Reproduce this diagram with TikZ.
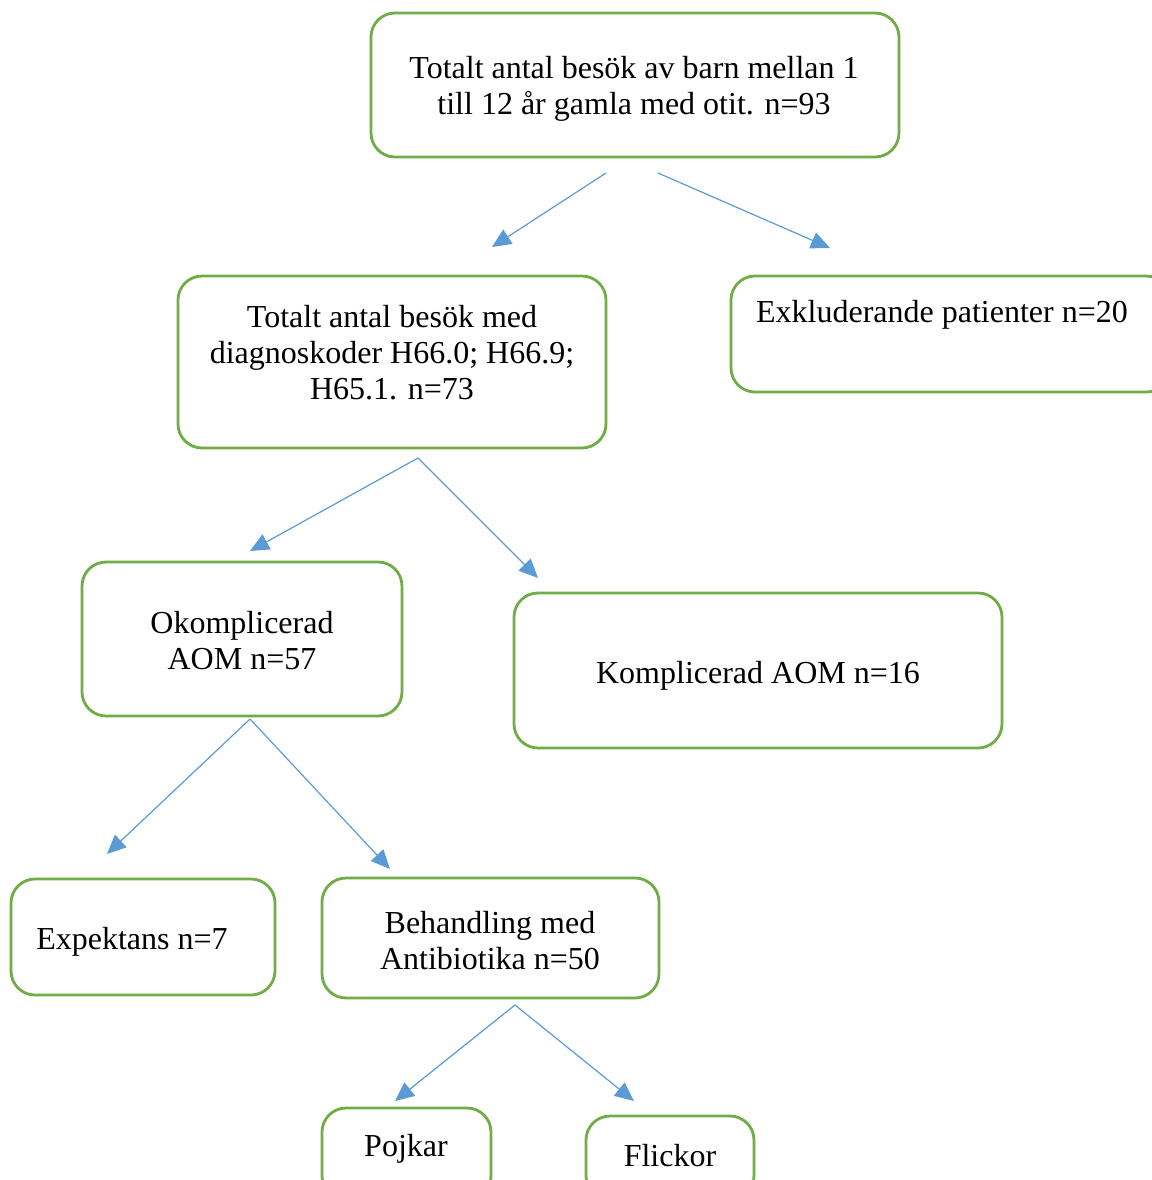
\documentclass[tikz,border=0pt]{standalone}
\usepackage{fontspec}
\setmainfont{Liberation Serif}
\usetikzlibrary{arrows.meta}
\definecolor{boxgreen}{HTML}{70AD47}
\definecolor{arrowblue}{HTML}{5B9BD5}
\tikzset{
  flowbox/.style={draw=boxgreen, line width=1.4pt, rounded corners=12pt, inner sep=0pt},
  flowtext/.style={font=\fontsize{16}{18}\selectfont, align=center, inner sep=0pt, text=black},
  flowarrow/.style={draw=arrowblue, line width=0.6pt, -{Triangle[length=9.5pt,width=8.5pt]}, arrowblue}
}
\begin{document}
\begin{tikzpicture}[x=0.5pt,y=-0.5pt]
\clip (0,0) rectangle (1152,1180);
\fill[white] (0,0) rectangle (1152,1180);
% boxes
\draw[flowbox] (371,13) rectangle (899,157) node[pos=0.5] (boxA) {};
\draw[flowbox] (178,276) rectangle (606,448) node[pos=0.5] (boxB) {};
\draw[flowbox] (731,276) rectangle (1170,392) node[pos=0.5] (boxC) {};
\draw[flowbox] (82,562) rectangle (402,716) node[pos=0.5] (boxD) {};
\draw[flowbox] (514,593) rectangle (1002,748) node[pos=0.5] (boxE) {};
\draw[flowbox] (11,879) rectangle (275,995) node[pos=0.5] (boxF) {};
\draw[flowbox] (322,878) rectangle (659,998) node[pos=0.5] (boxG) {};
\draw[flowbox] (322,1108) rectangle (491,1200) node[pos=0.5] (boxH) {};
\draw[flowbox] (586,1116) rectangle (754,1200) node[pos=0.5] (boxI) {};
% texts
\node[flowtext] (tA) at (634,89) {Totalt antal besök av barn mellan 1\\till 12 år gamla med otit. n=93};
\node[flowtext] (tB) at (392,353) {Totalt antal besök med\\diagnoskoder H66.0; H66.9;\\H65.1. n=73};
\node[flowtext] (tC) at (942,315) {Exkluderande patienter n=20};
\node[flowtext] (tD) at (242,641) {Okomplicerad\\AOM n=57};
\node[flowtext] (tE) at (758,676) {Komplicerad AOM n=16};
\node[flowtext] (tF) at (132,942) {Expektans n=7};
\node[flowtext] (tG) at (490,941) {Behandling med\\Antibiotika n=50};
\node[flowtext] (tH) at (406,1149) {Pojkar};
\node[flowtext] (tI) at (670,1156) {Flickor};
% arrow end points
\coordinate (a1s) at (606,173); \coordinate (a1e) at (492,247);
\coordinate (a2s) at (658,173); \coordinate (a2e) at (830,248);
\coordinate (b0) at (418,458);
\coordinate (b1e) at (250,551); \coordinate (b2e) at (538,578);
\coordinate (d0) at (250,719);
\coordinate (d1e) at (107,854); \coordinate (d2e) at (390,869);
\coordinate (g0) at (515,1005);
\coordinate (g1e) at (395,1101); \coordinate (g2e) at (634,1101);
% arrows
\draw[flowarrow] (a1s) -- (a1e);
\draw[flowarrow] (a2s) -- (a2e);
\draw[flowarrow] (b0) -- (b1e);
\draw[flowarrow] (b0) -- (b2e);
\draw[flowarrow] (d0) -- (d1e);
\draw[flowarrow] (d0) -- (d2e);
\draw[flowarrow] (g0) -- (g1e);
\draw[flowarrow] (g0) -- (g2e);
\end{tikzpicture}
\end{document}
